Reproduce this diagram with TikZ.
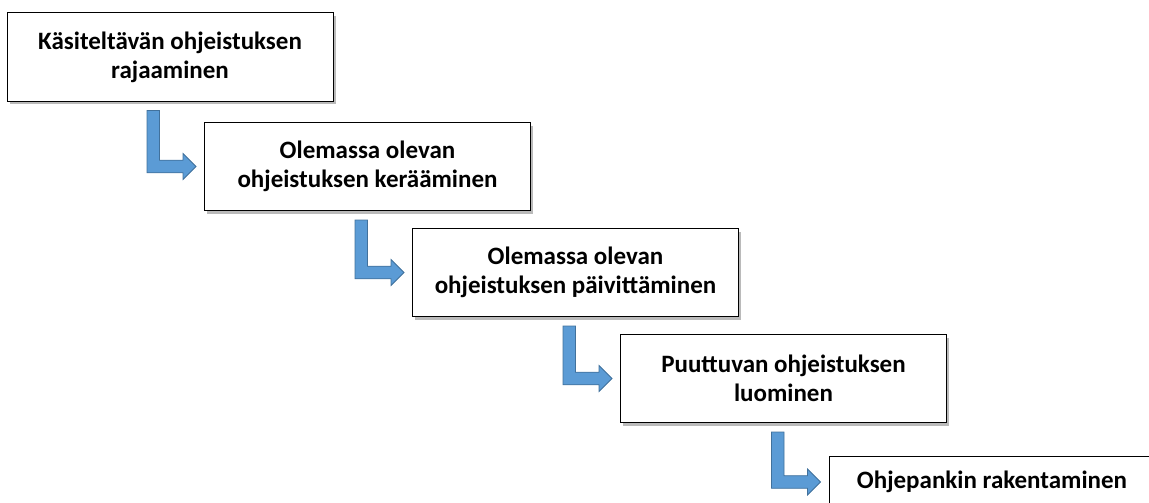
\documentclass[tikz,border=0pt]{standalone}
\usepackage{fontspec}
\setmainfont{Carlito}
\usetikzlibrary{positioning,calc,shadows}
\definecolor{arrowblue}{HTML}{5B9BD5}
\definecolor{arrowedge}{HTML}{41719C}
% bent arrow from the bottom of box #1 to the left side of box #2
\newcommand{\bentarrow}[2]{%
  \filldraw[fill=arrowblue,draw=arrowedge,line width=0.75pt]
    let \p1=(#1.south), \p2=(#2.west) in
    (\x2-57pt,\y1-9pt) -- (\x2-44.5pt,\y1-9pt) -- (\x2-44.5pt,\y2+6.3pt)
    -- (\x2-21pt,\y2+6.3pt) -- (\x2-21pt,\y2+13pt) -- (\x2-8pt,\y2)
    -- (\x2-21pt,\y2-13pt) -- (\x2-21pt,\y2-6.3pt) -- (\x2-57pt,\y2-6.3pt) -- cycle;}

\begin{document}
\begin{tikzpicture}[x=1pt,y=-1pt,node distance=106pt and 208pt,on grid,
		phase/.style={rectangle,draw=black,line width=1pt,fill=white,align=center,
			minimum width=326pt,minimum height=88pt,inner sep=2pt,
			font=\fontsize{25}{29}\selectfont\bfseries,
			drop shadow={shadow xshift=2.5pt,shadow yshift=-3pt,fill=black!60,opacity=0.45}}]
		\useasboundingbox (0,0) rectangle (1149,503);
		\clip (0,0) rectangle (1149,503);
		\node[phase]  (b1)     at (170,57)        {Käsiteltävän ohjeistuksen\\rajaaminen};
		\node[phase]  (b2)     [below right=109.5pt and 197.5pt of b1] {Olemassa olevan\\ohjeistuksen kerääminen};
		\node[phase]  (b3)     [below right=of b2] {Olemassa olevan\\ohjeistuksen päivittäminen};
		\node[phase]  (b4)     [below right=of b3] {Puuttuvan ohjeistuksen\\luominen};
		\node[phase,minimum height=52pt] (b5) [below right=103.5pt and 208.5pt of b4] {Ohjepankin rakentaminen};
		
		\bentarrow{b1}{b2}
		\bentarrow{b2}{b3}
		\bentarrow{b3}{b4}
		\bentarrow{b4}{b5}
\end{tikzpicture}
\end{document}
